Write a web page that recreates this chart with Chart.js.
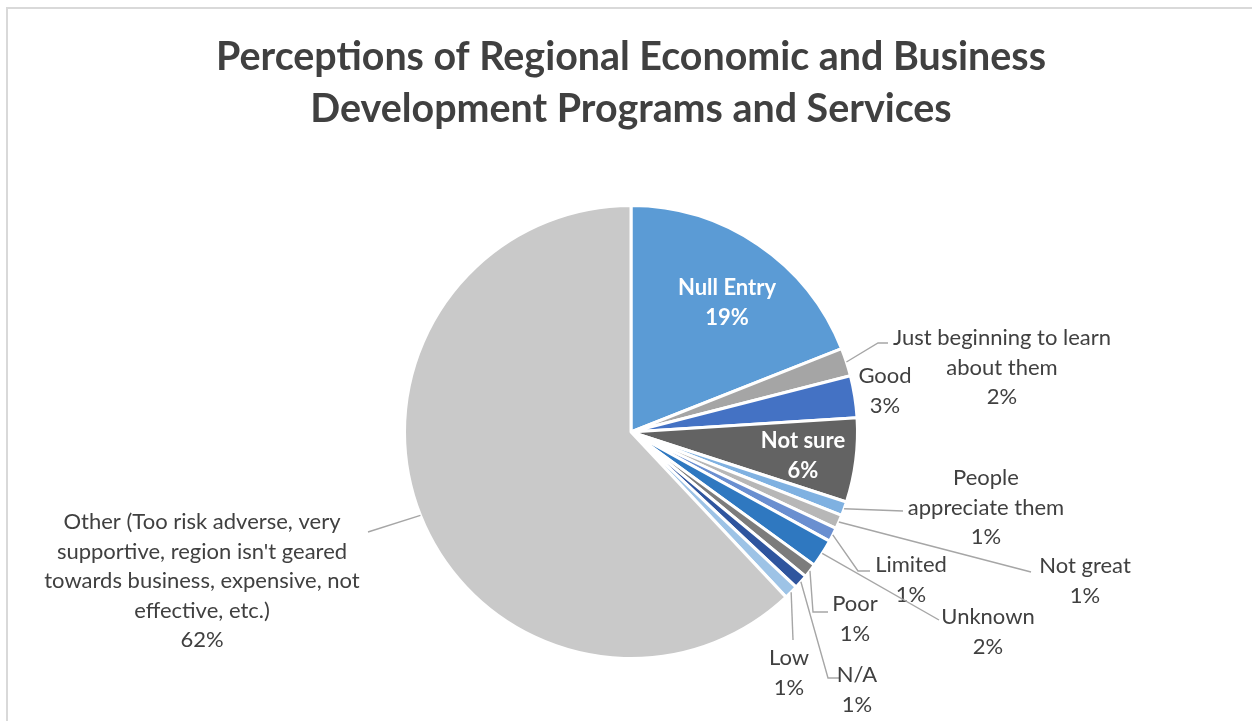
<!DOCTYPE html>
<html><head><meta charset="utf-8">
<script src="https://cdn.jsdelivr.net/npm/chart.js@4.4.1/dist/chart.umd.min.js"></script>
<style>
html,body{margin:0;padding:0;background:#fff;}
#wrap{position:relative;width:1252px;height:721px;overflow:hidden;background:#fff;}
#frame{position:absolute;left:6px;top:7px;width:1300px;height:800px;border-left:2px solid #D9D9D9;border-top:2px solid #D9D9D9;}
canvas{position:absolute;left:0;top:0;}
</style></head><body>
<div id="wrap"><div id="frame"></div><canvas id="c" width="1252" height="721"></canvas></div>
<script>
// ---- data ----
const titleLines = ['Perceptions of Regional Economic and Business', 'Development Programs and Services'];
const categories = [
  ['Null Entry'],
  ['Just beginning to learn', 'about them'],
  ['Good'],
  ['Not sure'],
  ['People', 'appreciate them'],
  ['Not great'],
  ['Limited'],
  ['Unknown'],
  ['Poor'],
  ['N/A'],
  ['Low'],
  ['Other (Too risk adverse, very', "supportive, region isn't geared", 'towards business, expensive, not', 'effective, etc.)']
];
const values = [19, 2, 3, 6, 1, 1, 1, 2, 1, 1, 1, 62];
const colors = ['#5B9BD5', '#A5A5A5', '#4472C4', '#636363', '#7FB1E1', '#B7B7B7', '#6A8FD0', '#2F78C0', '#7C7C7C', '#2F559E', '#9DC3E6', '#C9C9C9'];

// ---- label layout (offsets relative to the pie centre) ----
const labelLayout = [
  {dx: 96,   dy: -144, inside: true},
  {dx: 371,  dy: -94,  leader: [[247, -89], [257, -89]]},
  {dx: 254,  dy: -56},
  {dx: 172,  dy: 9,    inside: true},
  {dx: 355,  dy: 46,   leader: [[272, 79]]},
  {dx: 454,  dy: 134,  leader: [[400, 140]]},
  {dx: 280,  dy: 133,  leader: [[227, 139], [239, 139]]},
  {dx: 357,  dy: 185,  leader: [[308, 188]]},
  {dx: 224,  dy: 172,  leader: [[182, 180], [197, 180]]},
  {dx: 226,  dy: 243,  leader: [[197, 246], [208, 246]]},
  {dx: 158,  dy: 226,  leader: [[162, 208]]},
  {dx: -429, dy: 90,   leader: [[-263, 100]]}
];

const FONT = 'Lato';
const lineH = 29.5;

const labelPlugin = {
  id: 'pieLabels',
  afterDatasetsDraw(chart) {
    const ctx = chart.ctx;
    const meta = chart.getDatasetMeta(0);
    const total = values.reduce((a, b) => a + b, 0);
    meta.data.forEach((arc, i) => {
      const p = arc.getProps(['x', 'y', 'startAngle', 'endAngle', 'outerRadius'], true);
      const L = labelLayout[i];
      const cx = p.x, cy = p.y;
      const mid = (p.startAngle + p.endAngle) / 2;
      ctx.save();
      if (L.leader) {
        ctx.strokeStyle = '#A6A6A6';
        ctx.lineWidth = 1.4;
        ctx.beginPath();
        ctx.moveTo(cx + Math.cos(mid) * p.outerRadius, cy + Math.sin(mid) * p.outerRadius);
        L.leader.forEach(pt => ctx.lineTo(cx + pt[0], cy + pt[1]));
        ctx.stroke();
      }
      const lines = categories[i].concat([Math.round(values[i] / total * 100) + '%']);
      ctx.font = (L.inside ? 'bold ' : '') + '22px ' + FONT;
      ctx.fillStyle = L.inside ? '#FFFFFF' : '#404040';
      ctx.textAlign = 'center';
      ctx.textBaseline = 'middle';
      lines.forEach((t, k) => ctx.fillText(t, cx + L.dx, cy + L.dy + k * lineH));
      ctx.restore();
    });
  }
};

new Chart(document.getElementById('c'), {
  type: 'pie',
  data: {
    labels: categories,
    datasets: [{
      data: values,
      backgroundColor: colors,
      borderColor: '#FFFFFF',
      borderWidth: 3
    }]
  },
  options: {
    responsive: false,
    animation: false,
    layout: {padding: {left: 10, right: 0, top: 0, bottom: 61}},
    plugins: {
      legend: {display: false},
      tooltip: {enabled: false},
      title: {
        display: true,
        text: titleLines,
        color: '#404040',
        font: {family: FONT, size: 39.4, weight: 'bold', lineHeight: 1.32},
        padding: {top: 31.5, bottom: 68.5}
      }
    }
  },
  plugins: [labelPlugin]
});
</script>
</body></html>
